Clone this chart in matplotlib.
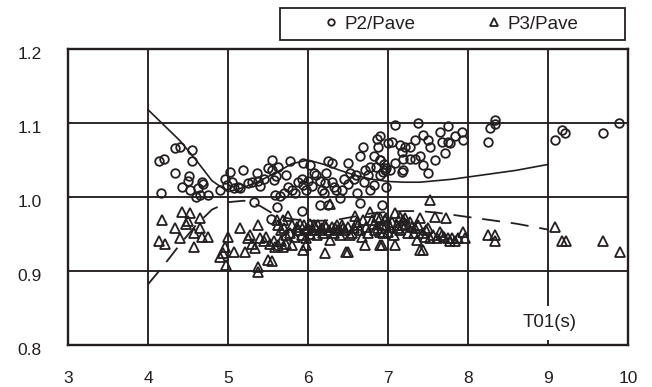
import matplotlib
matplotlib.use("Agg")
import matplotlib.pyplot as plt
from matplotlib.patches import Rectangle
from matplotlib.transforms import ScaledTranslation

plt.rcParams['font.family'] = ['Liberation Sans', 'DejaVu Sans']

# ---- data -----------------------------------------------------------
p2_x = [4.16, 4.14, 4.20, 4.34, 4.40, 4.55, 4.55, 4.34, 4.51, 4.50, 4.43, 4.52, 4.63, 4.69,
        4.65, 4.75, 4.60, 4.68,
        4.90, 4.96, 5.03, 4.99, 5.07, 5.15, 5.19, 5.25, 5.36, 5.38, 5.40, 5.50, 5.55, 5.57,
        5.55, 5.63, 5.59, 5.65, 5.73, 5.75, 5.78, 5.84, 5.94, 5.92, 5.94, 5.98, 6.03, 6.07,
        6.15, 6.17, 6.25, 6.30, 6.23, 6.21, 6.32, 6.40, 6.42, 6.50, 6.53, 6.57, 6.61, 6.65,
        6.69, 6.65, 6.71, 6.78, 6.82, 6.88, 6.86, 6.90, 6.96, 7.00, 6.98, 6.82, 6.90,
        5.33, 5.54, 5.61, 5.93, 6.15, 6.25, 6.93,
        5.05, 5.12, 5.30, 5.45, 5.60, 5.70, 5.80, 5.88, 6.00, 6.05, 6.10, 6.20, 6.30, 6.35,
        6.45, 6.50, 6.60, 6.70, 6.75, 6.78, 6.85, 6.95,
        7.09, 7.38, 6.90, 7.05, 7.15, 7.21, 7.28, 7.34, 7.44, 7.50, 7.53, 7.65, 7.75, 7.84,
        7.92, 7.94, 7.67, 7.75, 7.78, 7.71, 7.59, 7.50, 7.44, 7.40, 7.34, 7.28, 7.19, 7.17,
        7.19, 7.17, 7.09, 6.98, 6.90, 6.94, 7.03,
        8.25, 8.27, 8.34, 8.34, 9.09, 9.17, 9.21, 9.69, 9.89]
p2_y = [1.005, 1.049, 1.051, 1.066, 1.067, 1.063, 1.048, 1.033, 1.028, 1.021, 1.014, 1.009, 1.012, 1.018,
        1.003, 1.003, 1.000, 1.020,
        1.010, 1.025, 1.034, 1.016, 1.012, 1.012, 1.036, 1.019, 1.032, 1.021, 1.015, 1.039, 1.050, 1.023,
        1.037, 1.040, 1.003, 1.001, 1.030, 1.014, 1.048, 1.005, 1.046, 1.025, 1.016, 1.010, 1.043, 1.032,
        1.021, 1.010, 1.048, 1.046, 1.032, 1.019, 1.014, 0.998, 1.010, 1.046, 1.032, 1.025, 1.005, 0.992,
        1.068, 1.055, 1.037, 1.041, 1.055, 1.068, 1.079, 1.050, 1.037, 1.073, 1.014, 1.016, 1.030,
        0.993, 0.970, 0.986, 0.981, 0.989, 0.989, 0.989,
        1.020, 1.013, 1.020, 1.025, 1.028, 1.005, 1.010, 1.020, 1.022, 1.015, 1.030, 1.005, 1.020, 1.010,
        1.025, 1.018, 1.030, 1.020, 1.030, 1.010, 1.040, 1.045,
        1.097, 1.100, 1.082, 1.075, 1.070, 1.068, 1.068, 1.077, 1.084, 1.077, 1.068, 1.088, 1.096, 1.082,
        1.088, 1.077, 1.075, 1.075, 1.073, 1.059, 1.050, 1.032, 1.043, 1.055, 1.052, 1.052, 1.037, 1.034,
        1.052, 1.061, 1.046, 1.039, 1.050, 1.034, 1.037,
        1.075, 1.093, 1.099, 1.104, 1.077, 1.090, 1.086, 1.086, 1.100]

p3_x = [4.17, 4.14, 4.21, 4.34, 4.40, 4.43, 4.53, 4.50, 4.65, 4.57, 4.65, 4.67, 4.75, 4.57, 4.48,
        4.96, 5.00, 4.90, 4.98, 5.07, 4.94, 5.15, 5.21, 5.28, 5.34, 5.38, 5.40, 5.48, 5.53, 5.50,
        5.55, 5.38, 5.38, 5.59, 5.61, 5.69, 5.75, 5.80, 5.73, 5.80, 5.86, 5.92, 5.94, 5.98, 6.03,
        6.07, 6.15, 6.21, 6.23, 6.28, 6.36, 6.44, 6.48, 6.55, 6.59, 6.63, 6.67, 6.71, 6.78, 6.82,
        6.88, 6.90, 6.96, 7.00, 5.98, 5.90, 6.40, 6.27,
        7.53, 6.90, 6.98, 7.09, 7.15, 7.19, 7.17, 7.13, 7.23, 7.30, 7.40, 7.59, 7.73, 6.90, 7.07,
        6.92, 7.09, 7.36, 7.40, 7.44, 7.32, 7.48, 7.46, 7.53, 7.65, 7.67, 7.75, 7.78, 7.88, 7.94,
        7.96, 8.25, 8.34, 8.34, 9.09, 9.17, 9.23, 9.69, 9.90,
        5.62, 5.66, 5.70, 5.72, 5.78, 5.84, 5.88, 5.95, 5.97, 6.00, 6.02, 6.05, 6.09, 6.11, 6.13,
        6.17, 6.19, 6.21, 6.26, 6.30, 6.32, 6.34, 6.38, 6.42, 6.46, 6.50, 6.52, 6.57, 6.61, 6.65,
        6.69, 6.73, 6.75, 6.80, 6.84, 6.86, 6.92, 6.94, 6.98, 7.02, 7.05, 7.11, 7.15, 7.21, 7.25,
        7.28, 7.34, 7.38, 7.44, 7.50, 7.56, 7.61, 7.70, 7.80, 7.84,
        5.25, 5.30, 5.45, 5.58, 5.62, 5.66, 5.69, 6.50]
p3_y = [0.969, 0.941, 0.937, 0.958, 0.944, 0.980, 0.978, 0.967, 0.971, 0.951, 0.958, 0.946, 0.946, 0.933, 0.964,
        0.933, 0.946, 0.919, 0.908, 0.926, 0.924, 0.958, 0.926, 0.949, 0.931, 0.962, 0.944, 0.946, 0.937, 0.915,
        0.913, 0.906, 0.899, 0.933, 0.969, 0.969, 0.974, 0.962, 0.937, 0.935, 0.960, 0.949, 0.928, 0.935, 0.964,
        0.962, 0.955, 0.924, 0.960, 0.942, 0.962, 0.958, 0.926, 0.951, 0.974, 0.962, 0.946, 0.935, 0.980, 0.964,
        0.958, 0.935, 0.969, 0.953, 0.955, 0.964, 0.949, 0.990,
        0.996, 0.971, 0.962, 0.978, 0.973, 0.969, 0.962, 0.958, 0.964, 0.960, 0.971, 0.973, 0.971, 0.953, 0.949,
        0.935, 0.935, 0.942, 0.928, 0.928, 0.951, 0.955, 0.946, 0.944, 0.953, 0.949, 0.944, 0.940, 0.944, 0.953,
        0.944, 0.949, 0.949, 0.940, 0.960, 0.940, 0.940, 0.940, 0.926,
        0.962, 0.955, 0.958, 0.948, 0.952, 0.946, 0.955, 0.962, 0.944, 0.958, 0.950, 0.955, 0.960, 0.948, 0.962,
        0.958, 0.951, 0.962, 0.955, 0.960, 0.951, 0.958, 0.955, 0.962, 0.955, 0.960, 0.948, 0.958, 0.966, 0.955,
        0.969, 0.960, 0.951, 0.969, 0.955, 0.973, 0.962, 0.951, 0.971, 0.960, 0.966, 0.962, 0.955, 0.971, 0.951,
        0.966, 0.958, 0.962, 0.951, 0.958, 0.949, 0.944, 0.946, 0.944, 0.940,
        0.944, 0.937, 0.940, 0.940, 0.935, 0.940, 0.933, 0.926]

fit_x = [4.0, 4.2, 4.4, 4.6, 4.8, 5.0, 5.2, 5.4, 5.6, 5.8, 6.0, 6.2, 6.4, 6.6, 6.8,
         7.0, 7.2, 7.4, 7.6, 7.8, 8.0, 8.2, 8.4, 8.6, 8.8, 9.0]
fit_p2 = [1.118, 1.097, 1.076, 1.050, 1.022, 1.007, 1.013, 1.022, 1.033, 1.045, 1.050, 1.044, 1.036,
          1.029, 1.024, 1.021, 1.020, 1.020, 1.022, 1.024, 1.027, 1.030, 1.033, 1.036, 1.040, 1.044]
fit_p3 = [0.882, 0.908, 0.936, 0.962, 0.983, 0.993, 0.995, 0.988, 0.975, 0.970, 0.968, 0.968, 0.970,
          0.974, 0.978, 0.980, 0.981, 0.981, 0.979, 0.976, 0.973, 0.970, 0.967, 0.964, 0.960, 0.956]

x_ticks = [3, 4, 5, 6, 7, 8, 9, 10]
y_ticks = [0.8, 0.9, 1.0, 1.1, 1.2]
y_labels = ["0.8", "0.9", "1.0", "1.1", "1.2"]
series_labels = ["P2/Pave", "P3/Pave"]
x_title = "T01(s)"

# ---- figure ---------------------------------------------------------
ink = "#231f20"
fig = plt.figure(figsize=(6.52, 3.87), dpi=100)
ax = fig.add_axes([68/652, 1-345/387, 560/652, 296/387])

ax.set_xlim(3, 10)
ax.set_ylim(0.8, 1.2)
ax.set_xticks(x_ticks)
ax.set_yticks(y_ticks)
ax.set_yticklabels(y_labels)
ax.tick_params(length=0, labelsize=12.5, colors=ink)
ax.tick_params(axis='x', pad=19)
ax.tick_params(axis='y', pad=19)
for s in ax.spines.values():
    s.set_linewidth(1.7)
    s.set_color(ink)
ax.grid(True, color=ink, linewidth=1.35)
ax.set_axisbelow(True)

offset = ScaledTranslation(0, -4/100, fig.dpi_scale_trans)
for lab in ax.get_yticklabels():
    lab.set_transform(lab.get_transform() + offset)

ax.plot(fit_x, fit_p2, color=ink, linewidth=1.2, zorder=2)
ax.plot(fit_x, fit_p3, color=ink, linewidth=1.3, dashes=[10, 6], zorder=2)

h1, = ax.plot(p2_x, p2_y, linestyle='none', marker='o', markersize=6.2,
              markerfacecolor='none', markeredgecolor=ink, markeredgewidth=1.3,
              label=series_labels[0], zorder=3)
h2, = ax.plot(p3_x, p3_y, linestyle='none', marker='^', markersize=7.2,
              markerfacecolor='none', markeredgecolor=ink, markeredgewidth=1.3,
              label=series_labels[1], zorder=3)

ax.text(9.02, 0.83, x_title, ha='center', va='center', fontsize=13.5, color=ink,
        bbox=dict(facecolor='white', edgecolor='none', pad=6), zorder=4)

# legend box
fig.add_artist(Rectangle((280/652, 1-40/387), 345/652, 32/387, transform=fig.transFigure,
                         facecolor='white', edgecolor=ink, linewidth=1.3))
leg = fig.legend(handles=[h1, h2], loc='center', bbox_to_anchor=(451/652, 1-24/387),
                 ncol=2, frameon=False, fontsize=13.5, handlelength=0.8, handletextpad=0.3,
                 columnspacing=3.8, markerscale=0.75, borderpad=0)
for t in leg.get_texts():
    t.set_color(ink)

fig.savefig("out.png", dpi=100)
